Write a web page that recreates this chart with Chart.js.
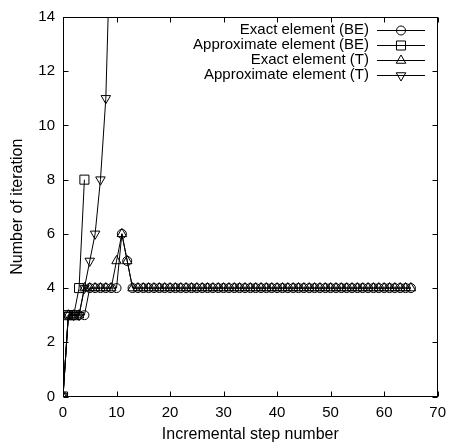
<!DOCTYPE html>
<html>
<head>
<meta charset="utf-8">
<script src="https://cdn.jsdelivr.net/npm/chart.js@4.4.0/dist/chart.umd.min.js"></script>
<style>
  html, body { margin: 0; padding: 0; background: #fff; }
  #wrap { width: 453px; height: 444px; }
</style>
</head>
<body>
<div id="wrap"><canvas id="iterChart" width="453" height="444"></canvas></div>
<script>
// incremental steps 0..65
const steps = [0,1,2,3,4,5,6,7,8,9,10,11,12,13,14,15,16,17,18,19,20,21,22,23,24,25,26,27,28,29,30,
    31,32,33,34,35,36,37,38,39,40,41,42,43,44,45,46,47,48,49,50,51,52,53,54,55,56,57,58,59,60,
    61,62,63,64,65];

const exactBE = [0,3,3,3,3,4,4,4,4,4,4,6,5,4,4,4,4,4,4,4,4,4,4,4,4,4,4,4,4,4,4,
    4,4,4,4,4,4,4,4,4,4,4,4,4,4,4,4,4,4,4,4,4,4,4,4,4,4,4,4,4,4,
    4,4,4,4,4];
const approxBE = [0,3,3,4,8];
const exactT = [0,3,3,3,4,4,4,4,4,4,5,6,5,4,4,4,4,4,4,4,4,4,4,4,4,4,4,4,4,4,4,
    4,4,4,4,4,4,4,4,4,4,4,4,4,4,4,4,4,4,4,4,4,4,4,4,4,4,4,4,4,4,
    4,4,4,4,4];
const approxT = [0,3,3,3,4,5,6,8,11,18];

const seriesLabels = ['Exact element (BE)', 'Approximate element (BE)', 'Exact element (T)', 'Approximate element (T)'];

const xTicks = [0, 10, 20, 30, 40, 50, 60, 70];
const yTicks = [0, 2, 4, 6, 8, 10, 12, 14];

const FONT = 'Liberation Sans, Arial, Helvetica, sans-serif';

function toPoints(values) {
    return values.map((v, i) => ({ x: steps[i], y: v }));
}

function makeSet(label, values, style, radius, rotation) {
    return {
        label: label,
        data: toPoints(values),
        borderColor: '#000',
        borderWidth: 1,
        backgroundColor: 'rgba(0,0,0,0)',
        pointStyle: style,
        pointRadius: radius,
        pointHoverRadius: radius,
        pointRotation: rotation || 0,
        pointBorderColor: '#000',
        pointBackgroundColor: 'rgba(0,0,0,0)',
        pointBorderWidth: 1,
        tension: 0,
        fill: false
    };
}

// border box + inward ticks on all four sides
const framePlugin = {
    id: 'frame',
    afterDatasetsDraw(chart) {
        const { ctx, chartArea: a, scales } = chart;
        const L = Math.round(a.left) + 0.5, R = Math.round(a.right) - 0.5;
        const T = Math.round(a.top) + 0.5, B = Math.round(a.bottom) - 0.5;
        ctx.save();
        ctx.strokeStyle = '#000';
        ctx.lineWidth = 1;
        ctx.strokeRect(L, T, R - L, B - T);
        ctx.beginPath();
        scales.x.ticks.forEach(t => {
            const px = Math.round(scales.x.getPixelForValue(t.value)) + 0.5;
            ctx.moveTo(px, B); ctx.lineTo(px, B - 5);
            ctx.moveTo(px, T); ctx.lineTo(px, T + 5);
        });
        scales.y.ticks.forEach(t => {
            const py = Math.round(scales.y.getPixelForValue(t.value)) + 0.5;
            ctx.moveTo(L, py); ctx.lineTo(L + 5, py);
            ctx.moveTo(R, py); ctx.lineTo(R - 5, py);
        });
        ctx.stroke();
        ctx.restore();
    }
};

// gnuplot style key: text right aligned, sample on the right
const keyPlugin = {
    id: 'gnuKey',
    afterDraw(chart) {
        const { ctx } = chart;
        const textRight = 369, lineX1 = 377, lineX2 = 425, rowTop = 30, rowGap = 15;
        ctx.save();
        ctx.font = '15px ' + FONT;
        ctx.textAlign = 'right';
        ctx.textBaseline = 'middle';
        chart.data.datasets.forEach((ds, i) => {
            const y = rowTop + i * rowGap;
            ctx.fillStyle = '#000';
            ctx.fillText(ds.label, textRight, y);
            ctx.strokeStyle = '#000';
            ctx.lineWidth = 1;
            ctx.beginPath();
            ctx.moveTo(lineX1, Math.round(y) + 0.5);
            ctx.lineTo(lineX2, Math.round(y) + 0.5);
            ctx.stroke();
            ctx.fillStyle = 'rgba(0,0,0,0)';
            Chart.helpers.drawPoint(ctx, {
                pointStyle: ds.pointStyle,
                radius: ds.pointRadius,
                rotation: ds.pointRotation,
                borderWidth: 1
            }, (lineX1 + lineX2) / 2, Math.round(y) + 0.5);
        });
        ctx.restore();
    }
};

new Chart(document.getElementById('iterChart'), {
    type: 'line',
    data: {
        datasets: [
            makeSet(seriesLabels[0], exactBE, 'circle', 4.5),
            makeSet(seriesLabels[1], approxBE, 'rect', 6.4),
            makeSet(seriesLabels[2], exactT, 'triangle', 5.5),
            makeSet(seriesLabels[3], approxT, 'triangle', 5.5, 180)
        ]
    },
    options: {
        responsive: false,
        animation: false,
        devicePixelRatio: 1,
        layout: { padding: { top: 15, right: 10, left: 0, bottom: 0 } },
        plugins: {
            legend: { display: false },
            tooltip: { enabled: false }
        },
        scales: {
            x: {
                type: 'linear',
                min: 0,
                max: 70,
                afterBuildTicks: s => { s.ticks = xTicks.map(v => ({ value: v })); },
                afterFit: s => { s.height = 47.5; },
                grid: { drawOnChartArea: false, drawTicks: false },
                border: { display: false },
                ticks: { color: '#000', padding: 7, font: { family: FONT, size: 15 } },
                title: {
                    display: true,
                    text: 'Incremental step number',
                    color: '#000',
                    font: { family: FONT, size: 16 },
                    padding: { top: 0, bottom: 0 }
                }
            },
            y: {
                min: 0,
                max: 14,
                afterBuildTicks: s => { s.ticks = yTicks.map(v => ({ value: v })); },
                afterFit: s => { s.width = 63; },
                grid: { drawOnChartArea: false, drawTicks: false },
                border: { display: false },
                ticks: { color: '#000', padding: 8, font: { family: FONT, size: 15 } },
                title: {
                    display: true,
                    text: 'Number of iteration',
                    color: '#000',
                    font: { family: FONT, size: 16 },
                    padding: { top: 8, bottom: 0 }
                }
            }
        }
    },
    plugins: [framePlugin, keyPlugin]
});
</script>
</body>
</html>
